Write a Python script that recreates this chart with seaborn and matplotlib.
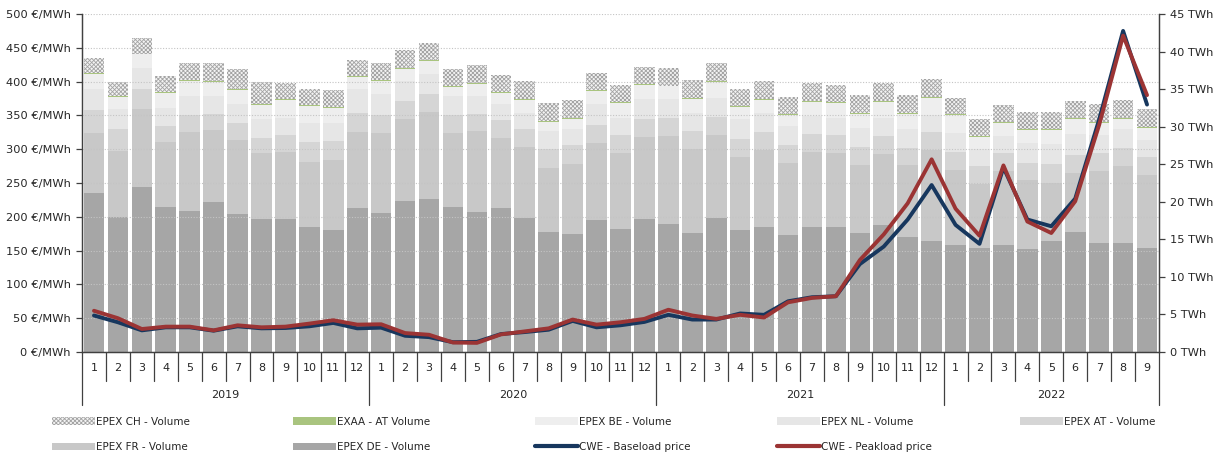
import numpy as np
import pandas as pd
import matplotlib
matplotlib.use("Agg")
import matplotlib.pyplot as plt
import seaborn as sns
from matplotlib.patches import Patch
from matplotlib.lines import Line2D
from matplotlib.transforms import blended_transform_factory

# ---------------- data ----------------
years = ["2019", "2020", "2021", "2022"]
months_in_year = [12, 12, 12, 9]
month_labels = [str(m) for m in range(1, 13)] * 3 + [str(m) for m in range(1, 10)]

# Volumes (TWh), stacked bottom -> top
epex_de = [21.17, 17.98, 21.92, 19.26, 18.73, 19.97, 18.33, 17.67, 17.75, 16.65, 16.25, 19.13,
           18.51, 20.06, 20.33, 19.26, 18.64, 19.17, 17.84, 15.98, 15.72, 17.58, 16.38, 17.71,
           17.05, 15.89, 17.84, 16.25, 16.60, 15.54, 16.60, 16.60, 15.80, 16.91, 15.27, 14.74,
           14.25, 13.85, 14.21, 13.68, 14.74, 15.94, 14.47, 14.47, 13.85]
epex_fr = [7.93, 8.77, 10.37, 8.69, 10.55, 9.53, 9.89, 8.77, 8.87, 8.64, 9.26, 10.15,
           10.64, 10.99, 11.61, 9.84, 10.77, 9.31, 9.40, 8.51, 9.30, 10.19, 10.06, 10.91,
           11.70, 11.09, 11.00, 9.71, 10.29, 9.57, 10.02, 9.84, 9.05, 9.40, 9.58, 12.15,
           9.98, 8.56, 9.88, 9.17, 7.80, 7.84, 9.62, 10.24, 9.71]
epex_at = [3.06, 2.88, 2.66, 2.13, 2.22, 2.13, 2.21, 2.08, 2.31, 2.66, 2.57, 2.57,
           2.35, 2.35, 2.35, 2.39, 2.31, 2.40, 2.39, 2.49, 2.49, 2.44, 2.49, 2.43,
           2.39, 2.39, 2.44, 2.35, 2.35, 2.40, 2.44, 2.40, 2.48, 2.44, 2.35, 2.39,
           2.39, 2.35, 2.44, 2.35, 2.44, 2.44, 2.44, 2.40, 2.40]
epex_nl = [2.88, 2.66, 2.89, 2.44, 2.57, 2.44, 2.53, 2.44, 2.26, 2.57, 2.44, 3.19,
           2.79, 2.66, 2.66, 2.57, 2.35, 2.08, 2.22, 2.43, 2.12, 2.75, 2.26, 2.57,
           2.48, 2.48, 2.57, 2.65, 2.61, 2.57, 2.35, 2.35, 2.53, 2.44, 2.43, 2.22,
           2.57, 2.22, 2.22, 2.66, 2.66, 2.75, 2.31, 2.52, 2.21]
epex_be = [1.91, 1.64, 1.77, 1.99, 1.99, 1.86, 1.91, 1.95, 2.31, 2.22, 2.00, 1.60,
           1.77, 1.64, 1.77, 1.24, 1.55, 1.46, 1.73, 1.24, 1.42, 1.82, 1.90, 1.91,
           1.73, 1.77, 2.12, 1.69, 1.69, 1.42, 1.86, 1.95, 1.86, 2.08, 2.00, 2.35,
           2.31, 1.68, 1.68, 1.69, 1.86, 1.99, 1.68, 1.33, 1.64]
exaa_at = [0.13, 0.13, 0.13, 0.13, 0.13, 0.13, 0.13, 0.13, 0.13, 0.13, 0.13, 0.13,
           0.13, 0.13, 0.13, 0.13, 0.13, 0.13, 0.13, 0.13, 0.13, 0.13, 0.13, 0.13,
           0.13, 0.13, 0.13, 0.13, 0.13, 0.13, 0.13, 0.13, 0.13, 0.13, 0.13, 0.13,
           0.13, 0.13, 0.13, 0.13, 0.13, 0.13, 0.13, 0.13, 0.13]
epex_ch = [2.09, 1.87, 2.09, 2.09, 2.31, 2.44, 2.70, 2.88, 2.22, 2.08, 2.22, 2.17,
           2.31, 2.36, 2.31, 2.31, 2.40, 2.36, 2.40, 2.31, 2.31, 2.26, 2.31, 2.31,
           2.31, 2.40, 2.40, 2.26, 2.39, 2.35, 2.35, 2.31, 2.40, 2.35, 2.40, 2.30,
           2.22, 2.26, 2.27, 2.30, 2.31, 2.31, 2.31, 2.40, 2.35]

# Prices (EUR/MWh)
base_price = [54, 44, 32, 36.5, 36.5, 31.5, 38, 35, 35.5, 38, 43, 35,
              36, 24, 22, 14.5, 15, 26.5, 29.5, 33, 46, 36.5, 39.5, 44.5,
              55, 48, 48, 57, 55, 75, 81, 82.5, 130, 156, 196, 247,
              188, 160, 273, 196, 186, 227, 344, 475, 366]
peak_price = [61, 50, 34, 37.5, 37.5, 32, 39.5, 36.5, 37.5, 42, 47, 40.5,
              41, 28, 25.5, 14, 13.5, 26, 30.5, 35, 48, 40.5, 44, 49,
              62.5, 54, 49, 55, 51, 73.5, 80, 82.5, 136, 174, 220, 285,
              212, 172, 276, 193, 176, 223, 336, 468, 380]

# ---------------- style ----------------
sns.set_theme(style="white")
plt.rcParams['font.family'] = ['DejaVu Sans']
plt.rcParams['hatch.linewidth'] = 0.6

W, H = 1217, 457
fig = plt.figure(figsize=(W / 100, H / 100), dpi=100)
L, R, T, B = 82, 1159, 14, 352
ax = fig.add_axes([L / W, 1 - B / H, (R - L) / W, (B - T) / H])
ax2 = ax.twinx()

n = len(epex_de)
df = pd.DataFrame({
    "pos": np.arange(n),
    "DE": epex_de, "FR": epex_fr, "AT": epex_at, "NL": epex_nl,
    "BE": epex_be, "EXAA": exaa_at, "CH": epex_ch,
})
HATCH = "xxxxxxxx"
layers = [  # bottom -> top
    ("DE", "#a6a6a6", None),
    ("FR", "#c8c8c8", None),
    ("AT", "#d5d5d5", None),
    ("NL", "#e6e6e6", None),
    ("BE", "#eeeeee", None),
    ("EXAA", "#a9c47f", None),
    ("CH", "#f4f4f4", HATCH),
]
cum = np.zeros(n)
for key, _, _ in layers:
    cum = cum + df[key].values
    df["cum_" + key] = cum

hatch_col = "#a3a3a3"
for key, col, hatch in reversed(layers):
    kw = dict(linewidth=0)
    if hatch:
        kw.update(hatch=hatch, edgecolor=hatch_col)
    else:
        kw.update(edgecolor=col)
    sns.barplot(data=df, x="pos", y="cum_" + key, native_scale=True, color=col,
                saturation=1, width=0.86, errorbar=None, ax=ax, **kw)

xs = np.arange(n)
sns.lineplot(x=xs, y=base_price, ax=ax2, color="#17375e", linewidth=2.8, zorder=5)
sns.lineplot(x=xs, y=peak_price, ax=ax2, color="#9b3434", linewidth=2.8, zorder=6)

ax.set_xlim(-0.5, n - 0.5)
ax.set_ylim(0, 45)
ax2.set_ylim(0, 500)
for a in (ax, ax2):
    a.set_xlabel("")
    a.set_ylabel("")
    a.spines["top"].set_visible(False)
    for s in ("left", "right", "bottom"):
        a.spines[s].set_color("#404040")
        a.spines[s].set_linewidth(0.9)
    a.tick_params(axis="x", length=0, labelbottom=False)
    a.set_xticks([])

# volumes (TWh) on right, prices on left
ax.yaxis.tick_right()
ax.set_yticks(range(0, 46, 5))
ax.set_yticklabels([f"{v} TWh" for v in range(0, 46, 5)])
ax2.yaxis.tick_left()
ax2.set_yticks(range(0, 501, 50))
ax2.set_yticklabels([f"{v} €/MWh" for v in range(0, 501, 50)])
for a in (ax, ax2):
    a.tick_params(axis="y", length=4, width=0.9, color="#404040", labelsize=8.2,
                  labelcolor="#262626", pad=4, direction="out")
ax2.grid(axis="y", linestyle=(0, (1, 1.5)), color="#c4c4c4", linewidth=0.8, zorder=1)
ax.grid(False)

# two-level category axis
trans = blended_transform_factory(ax.transData, ax.transAxes)
h = B - T
for i, lab in enumerate(month_labels):
    ax.text(i, -16 / h, lab, transform=trans, ha="center", va="center",
            fontsize=8, color="#262626", clip_on=False)
year_edges = [-0.5]
for m in months_in_year:
    year_edges.append(year_edges[-1] + m)
for i in range(n + 1):
    x = i - 0.5
    depth = 53 / h if x in year_edges else 29 / h
    ax.plot([x, x], [0, -depth], transform=trans, clip_on=False,
            color="#404040", lw=0.9)
for yr, a0, a1 in zip(years, year_edges[:-1], year_edges[1:]):
    ax.text((a0 + a1) / 2, -43 / h, yr, transform=trans, ha="center", va="center",
            fontsize=8, color="#262626", clip_on=False)

# legend (5 columns x 2 rows, row-wise order)
def patch(c, hatch=None):
    if hatch:
        return Patch(facecolor="#f4f4f4", edgecolor=hatch_col, hatch=hatch, linewidth=0)
    return Patch(facecolor=c, edgecolor=c, linewidth=0)

cols = [
    [(patch(None, HATCH), "EPEX CH - Volume"), (patch("#c8c8c8"), "EPEX FR - Volume")],
    [(patch("#a9c47f"), "EXAA - AT Volume"), (patch("#a6a6a6"), "EPEX DE - Volume")],
    [(patch("#eeeeee"), "EPEX BE - Volume"),
     (Line2D([0], [0], color="#17375e", lw=3), "CWE - Baseload price")],
    [(patch("#e6e6e6"), "EPEX NL - Volume"),
     (Line2D([0], [0], color="#9b3434", lw=3), "CWE - Peakload price")],
    [(patch("#d5d5d5"), "EPEX AT - Volume")],
]
col_x = [52, 293, 535, 777, 1020]
for cx, entries in zip(col_x, cols):
    fig.legend([e[0] for e in entries], [e[1] for e in entries],
               loc="upper left", bbox_to_anchor=(cx / W, 1 - 417 / H),
               frameon=False, fontsize=7.5, handlelength=4.1, handleheight=0.8,
               handletextpad=0.1, labelspacing=1.45, borderpad=0, borderaxespad=0,
               labelcolor="#262626")

fig.savefig("out.png", dpi=100)
